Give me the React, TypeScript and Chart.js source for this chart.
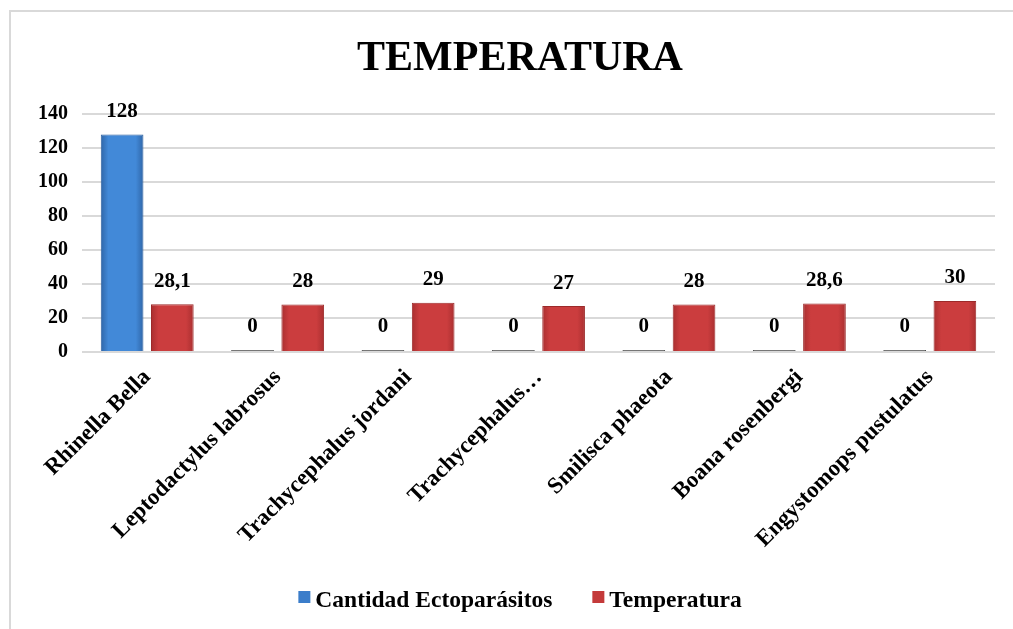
import React, { useEffect, useRef } from "react";
import { Chart, registerables } from "chart.js";

Chart.register(...registerables);

const categories = [
  "Rhinella Bella",
  "Leptodactylus labrosus",
  "Trachycephalus jordani",
  "Trachycephalus…",
  "Smilisca phaeota",
  "Boana rosenbergi",
  "Engystomops pustulatus",
];
const ectoparasitos = [128, 0, 0, 0, 0, 0, 0];
const temperatura = [28.1, 28, 29, 27, 28, 28.6, 30];
const yTicks = [0, 20, 40, 60, 80, 100, 120, 140];
const titleText = "TEMPERATURA";

const FONT = "'Liberation Serif', 'Times New Roman', serif";
const BLUE = "#3b7dca";
const RED = "#c43a3a";
const SHADES: Record<string, [string, string]> = {
  [BLUE]: ["#2f66a8", "#4289d8"],
  [RED]: ["#a92f30", "#cb3d3e"],
};

const gradientPlugin = {
  id: "barGradient",
  beforeDatasetsDraw(chart: any) {
    const ctx = chart.ctx;
    chart.data.datasets.forEach((ds: any, di: number) => {
      const meta = chart.getDatasetMeta(di);
      meta.data.forEach((bar: any, i: number) => {
        if (ds.data[i] === 0) return;
        const shade = SHADES[ds.legendColor];
        if (!shade) return;
        const l = bar.x - bar.width / 2;
        const r = bar.x + bar.width / 2;
        const g = ctx.createLinearGradient(l, 0, r, 0);
        g.addColorStop(0, shade[0]);
        g.addColorStop(0.18, shade[1]);
        g.addColorStop(0.82, shade[1]);
        g.addColorStop(1, shade[0]);
        bar.options = Object.assign({}, bar.options, { backgroundColor: g });
      });
    });
  },
};

const dataLabelPlugin = {
  id: "dataLabels",
  afterDatasetsDraw(chart: any) {
    const ctx = chart.ctx;
    ctx.save();
    ctx.font = `bold 21px ${FONT}`;
    ctx.fillStyle = "#000";
    ctx.textAlign = "center";
    ctx.textBaseline = "middle";
    chart.data.datasets.forEach((ds: any, di: number) => {
      const meta = chart.getDatasetMeta(di);
      meta.data.forEach((bar: any, i: number) => {
        const v = ds.data[i];
        const txt = String(v).replace(".", ",");
        ctx.fillText(txt, bar.x, bar.y - 23);
      });
    });
    ctx.restore();
  },
};

const titleLegendPlugin = {
  id: "titleLegend",
  afterDraw(chart: any) {
    const ctx = chart.ctx;
    const cx = 520;
    ctx.save();
    ctx.font = `bold 42px ${FONT}`;
    ctx.fillStyle = "#000";
    ctx.textAlign = "center";
    ctx.textBaseline = "middle";
    ctx.fillText(titleText, cx, 59);
    ctx.font = `bold 23.5px ${FONT}`;
    ctx.textAlign = "left";
    const box = 12;
    const gapBox = 5;
    const gapItem = 40;
    const items = chart.data.datasets.map((ds: any) => ({
      text: ds.label,
      color: ds.legendColor,
      w: ctx.measureText(ds.label).width,
    }));
    let total = 0;
    items.forEach((it: any, i: number) => {
      total += box + gapBox + it.w + (i < items.length - 1 ? gapItem : 0);
    });
    let x = cx - total / 2;
    const y = 601;
    items.forEach((it: any) => {
      ctx.fillStyle = it.color;
      ctx.fillRect(x, y - 4 - box / 2, box, box);
      ctx.fillStyle = "#000";
      ctx.fillText(it.text, x + box + gapBox, y);
      x += box + gapBox + it.w + gapItem;
    });
    ctx.restore();
  },
};

export default function App() {
  const ref = useRef<HTMLCanvasElement>(null);
  useEffect(() => {
    if (!ref.current) return;
    const chart = new Chart(ref.current, {
      type: "bar",
      data: {
        labels: categories,
        datasets: [
          {
            label: "Cantidad Ectoparásitos",
            legendColor: BLUE,
            data: ectoparasitos,
            backgroundColor: (c: any) => (c.raw === 0 ? "#4a4a4a" : BLUE),
            borderColor: (c: any) => (c.raw === 0 ? "#4a4a4a" : "#2c5f9e"),
            borderWidth: 1,
            minBarLength: 2,
            categoryPercentage: 0.77,
            barPercentage: 0.85,
          },
          {
            label: "Temperatura",
            legendColor: RED,
            data: temperatura,
            backgroundColor: RED,
            borderColor: "#9c2a2a",
            borderWidth: 1,
            categoryPercentage: 0.77,
            barPercentage: 0.85,
          },
        ],
      },
      options: {
        responsive: false,
        animation: false,
        layout: { padding: { left: 10, right: 18, top: 114, bottom: 70 } },
        plugins: {
          title: { display: false },
          legend: { display: false },
          tooltip: { enabled: false },
        },
        scales: {
          x: {
            grid: { display: false },
            border: { display: false },
            ticks: {
              color: "#000",
              maxRotation: 45,
              minRotation: 45,
              autoSkip: false,
              padding: 4,
              font: { family: FONT, size: 23, weight: "bold" },
            },
            afterFit: (s: any) => {
              s.height = 207;
            },
          },
          y: {
            min: 0,
            max: 140,
            afterBuildTicks: (s: any) => {
              s.ticks = yTicks.map((v) => ({ value: v }));
            },
            grid: { color: "#d9d9d9", lineWidth: 2, drawTicks: false },
            border: { display: false },
            ticks: {
              color: "#000",
              padding: 14,
              font: { family: FONT, size: 20, weight: "bold" },
            },
            afterFit: (s: any) => {
              s.width = 72;
            },
          },
        },
      },
      plugins: [gradientPlugin, dataLabelPlugin, titleLegendPlugin],
    } as any);
    return () => chart.destroy();
  }, []);

  return (
    <div style={{ position: "fixed", left: 0, top: 0, width: 1013, height: 629, background: "#fff" }}>
      <div
        style={{
          position: "absolute",
          left: 9,
          top: 10,
          right: 0,
          bottom: 0,
          borderTop: "2px solid #d9d9d9",
          borderLeft: "2px solid #d9d9d9",
        }}
      />
      <canvas ref={ref} width={1013} height={629} style={{ position: "absolute", left: 0, top: 0 }} />
    </div>
  );
}
